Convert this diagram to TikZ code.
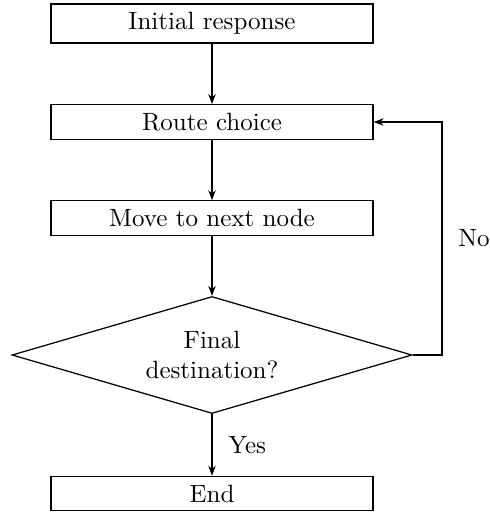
\documentclass[tikz,border=0pt]{standalone}
\usetikzlibrary{shapes.geometric,arrows.meta}
\begin{document}
\begin{tikzpicture}[x=0.4pt,y=-0.4pt,
  every path/.style={line width=0.5pt},
  stepbox/.style={draw,line width=0.5pt,minimum width=128.8pt,inner sep=3.33pt},
  decision/.style={draw,line width=0.5pt,diamond,aspect=3.42,minimum width=160pt,minimum height=46.8pt,inner sep=0pt,align=center},
  flow/.style={-{Stealth[length=4pt,width=3pt]},line width=0.5pt}]
  \useasboundingbox (0,0) rectangle (489,512);

  \node[stepbox] (init)  at (212,23.5) {Initial response};
  \node[stepbox] (route) at (212,122)  {Route choice};
  \node[stepbox] (move)  at (212,218)  {Move to next node};
  \node[decision] (dest) at (212,355)  {Final\\destination?};
  \node[stepbox] (fin)   at (212,493.5) {End};
  \coordinate (turn) at (442,355);

  \draw[flow] (init) -- (route);
  \draw[flow] (route) -- (move);
  \draw[flow] (move) -- (dest);
  \draw[flow] (dest) -- node[right,xshift=3pt] {Yes} (fin);
  \draw[flow] (dest.east) -- (turn) -- node[right,xshift=3pt] {No} (turn |- route.east) -- (route.east);
\end{tikzpicture}
\end{document}
